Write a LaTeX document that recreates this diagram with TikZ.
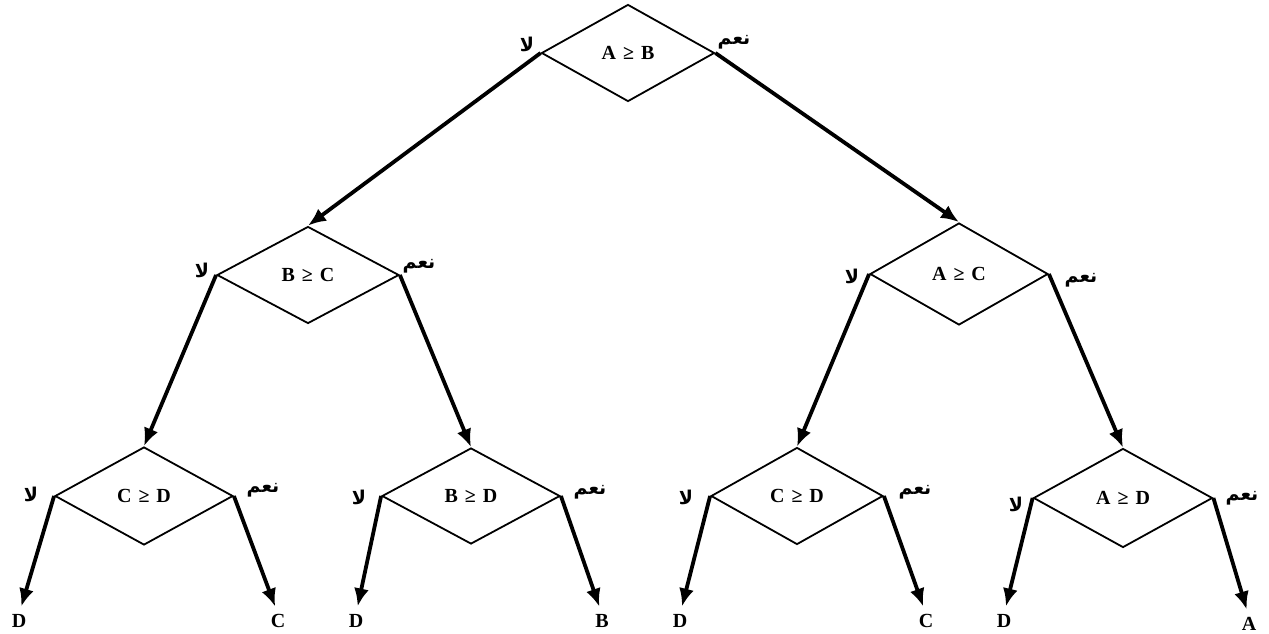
\documentclass[tikz,border=0pt]{standalone}
\usepackage{fontspec}
\setmainfont{Liberation Serif}
\newfontfamily\arabicfont[Script=Arabic]{DejaVu Sans}
\TeXXeTstate=1
\usetikzlibrary{shapes.geometric,arrows.meta}
\newcommand{\geqsp}{\hspace{0.35em}≥\hspace{0.35em}}
\begin{document}
\begin{tikzpicture}[x=1pt,y=-1pt,
  dec/.style={diamond, draw, line width=1.8pt, inner sep=0pt,
    font=\bfseries\fontsize{20}{22}\selectfont},
  arr/.style={line width=3.8pt, -{Latex[length=18pt,width=15pt]}},
  leafarr/.style={arr, shorten >=8pt},
  leaf/.style={font=\bfseries\fontsize{20}{22}\selectfont, inner sep=0pt},
  ar/.style={font=\arabicfont\bfseries\fontsize{19}{21}\selectfont, inner sep=0pt}]
\useasboundingbox (0,0) rectangle (1269,634);

% decision diamonds
\node[dec, minimum width=173pt, minimum height=97pt] (n0) at (628,53) {A\geqsp B};
\node[dec, minimum width=182pt, minimum height=97pt] (n1) at (308,275) {B\geqsp C};
\node[dec, minimum width=178pt, minimum height=102pt] (n2) at (959,274) {A\geqsp C};
\node[dec, minimum width=178pt, minimum height=98pt] (n3) at (144,496) {C\geqsp D};
\node[dec, minimum width=178pt, minimum height=96pt] (n4) at (471,496) {B\geqsp D};
\node[dec, minimum width=172pt, minimum height=97pt] (n5) at (797,496) {C\geqsp D};
\node[dec, minimum width=179pt, minimum height=99pt] (n6) at (1123,498) {A\geqsp D};

% leaves
\node[leaf] (l1) at (19,621) {D};
\node[leaf] (l2) at (278,621) {C};
\node[leaf] (l3) at (356,621) {D};
\node[leaf] (l4) at (602,621) {B};
\node[leaf] (l5) at (680,621) {D};
\node[leaf] (l6) at (926,621) {C};
\node[leaf] (l7) at (1004,621) {D};
\node[leaf] (l8) at (1249,624) {A};

% connectors
\draw[arr] (n0.west) -- (n1.north);
\draw[arr] (n0.east) -- (n2.north);
\draw[arr] (n1.west) -- (n3.north);
\draw[arr] (n1.east) -- (n4.north);
\draw[arr] (n2.west) -- (n5.north);
\draw[arr] (n2.east) -- (n6.north);
\draw[leafarr] (n3.west) -- (l1.north);
\draw[leafarr] (n3.east) -- (l2.north);
\draw[leafarr] (n4.west) -- (l3.north);
\draw[leafarr] (n4.east) -- (l4.north);
\draw[leafarr] (n5.west) -- (l5.north);
\draw[leafarr] (n5.east) -- (l6.north);
\draw[leafarr] (n6.west) -- (l7.north);
\draw[leafarr] (n6.east) -- (l8.north);

% branch labels
\node[ar] (a0) at (527,44) {\beginR لا\endR};
\node[ar] (b0) at (734,42) {\beginR نعم\endR};
\node[ar] (a1) at (202,270) {\beginR لا\endR};
\node[ar] (b1) at (419,266) {\beginR نعم\endR};
\node[ar] (a2) at (852,276) {\beginR لا\endR};
\node[ar] (b2) at (1081,280) {\beginR نعم\endR};
\node[ar] (a3) at (31,494) {\beginR لا\endR};
\node[ar] (b3) at (263,490) {\beginR نعم\endR};
\node[ar] (a4) at (359,497) {\beginR لا\endR};
\node[ar] (b4) at (590,492) {\beginR نعم\endR};
\node[ar] (a5) at (686,497) {\beginR لا\endR};
\node[ar] (b5) at (915,492) {\beginR نعم\endR};
\node[ar] (a6) at (1016,504) {\beginR لا\endR};
\node[ar] (b6) at (1242,498) {\beginR نعم\endR};
\end{tikzpicture}
\end{document}
